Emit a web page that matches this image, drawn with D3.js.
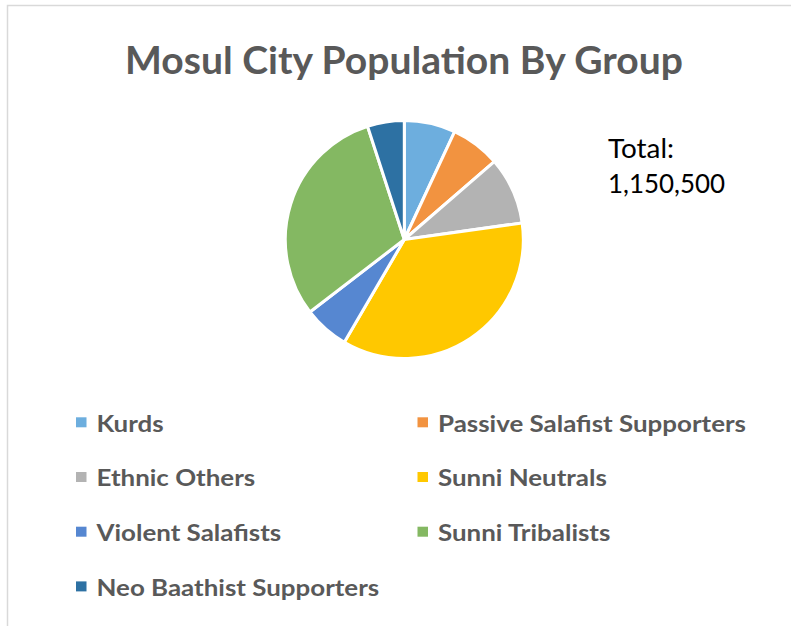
<!DOCTYPE html>
<html>
<head>
<meta charset="utf-8">
<script src="https://cdn.jsdelivr.net/npm/d3@7"></script>
<style>
  body { margin: 0; background: #fff; }
  svg { display: block; }
</style>
</head>
<body>
<div id="chart-container"></div>
<script>
const groups = [
  'Kurds',
  'Passive Salafist Supporters',
  'Ethnic Others',
  'Sunni Neutrals',
  'Violent Salafists',
  'Sunni Tribalists',
  'Neo Baathist Supporters'
]
const population = [80000, 77000, 105000, 410000, 71000, 350000, 57500]
const groupColors = ['#6daede', '#f29340', '#b3b3b3', '#ffc800', '#5687d1', '#84b862', '#2d71a3']
const chartTitle = 'Mosul City Population By Group'
const totalLines = ['Total:', '1,150,500']

const chartWidth = 791
const chartHeight = 626
const fontFamily = 'Lato, "Open Sans", sans-serif'
const pieCenter = { x: 404.3, y: 239.5 }
const pieRadius = 119

const data = groups.map((name, i) => ({ name, value: population[i], color: groupColors[i] }))

const svg = d3
  .select('#chart-container')
  .append('svg')
  .attr('width', chartWidth)
  .attr('height', chartHeight)

// chart area frame (only top and left edges are visible in the crop)
svg
  .append('rect')
  .attr('x', 7.5)
  .attr('y', 5.5)
  .attr('width', 900)
  .attr('height', 900)
  .attr('fill', 'none')
  .attr('stroke', '#d9d9d9')
  .attr('stroke-width', 1.5)

// squeeze text to the narrower Calibri-like widths of the original
const fitWidth = (sel, target) => {
  const natural = sel.node().getComputedTextLength()
  sel.attr('textLength', target).attr('lengthAdjust', 'spacingAndGlyphs')
  return target / natural
}

const title = svg
  .append('text')
  .attr('x', 404)
  .attr('y', 74.3)
  .attr('text-anchor', 'middle')
  .attr('font-family', fontFamily)
  .attr('font-weight', 700)
  .attr('font-size', 37.7)
  .attr('fill', '#595959')
  .text(chartTitle)
fitWidth(title, 558)

const drawPie = () => {
  const pie = d3.pie().value(d => d.value).sort(null)
  const arc = d3.arc().innerRadius(0).outerRadius(pieRadius)

  svg
    .append('g')
    .attr('transform', `translate(${pieCenter.x},${pieCenter.y})`)
    .selectAll('path')
    .data(pie(data))
    .enter()
    .append('path')
    .attr('d', arc)
    .attr('fill', d => d.data.color)
    .attr('stroke', '#fff')
    .attr('stroke-width', 3)
    .attr('stroke-linejoin', 'round')
}

const drawTotal = () => {
  const lines = svg
    .append('g')
    .selectAll('text')
    .data(totalLines)
    .enter()
    .append('text')
    .attr('x', 608)
    .attr('y', (d, i) => 158.3 + i * 34.7)
    .attr('font-family', fontFamily)
    .attr('font-size', 26.5)
    .attr('fill', '#000')
    .text(d => d)
  fitWidth(d3.select(lines.nodes()[1]), 117)
  fitWidth(d3.select(lines.nodes()[0]), 66)
}

const drawLegend = () => {
  const colX = d3.scaleOrdinal().domain([0, 1]).range([76, 417.5])
  const rowY = d3.scaleLinear().domain([0, 1]).range([431.7, 486.4])
  const legend = svg.append('g').attr('id', 'legend')

  const items = legend
    .selectAll('g')
    .data(data)
    .enter()
    .append('g')
    .attr('transform', (d, i) => `translate(${colX(i % 2)},${rowY(Math.floor(i / 2))})`)

  items
    .append('rect')
    .attr('x', 0)
    .attr('y', -14.4)
    .attr('width', 10.5)
    .attr('height', 10)
    .attr('fill', d => d.color)

  const labels = items
    .append('text')
    .attr('x', 20.5)
    .attr('y', 0)
    .attr('font-family', fontFamily)
    .attr('font-weight', 700)
    .attr('font-size', 23.3)
    .attr('fill', '#595959')
    .text(d => d.name)

  // use the widest label to find the squeeze ratio, then apply it to all
  const ratio = 308 / labels.nodes()[1].getComputedTextLength()
  labels.each(function () {
    const w = this.getComputedTextLength()
    d3.select(this).attr('textLength', w * ratio).attr('lengthAdjust', 'spacingAndGlyphs')
  })
}

drawPie()
drawTotal()
drawLegend()
</script>
</body>
</html>
